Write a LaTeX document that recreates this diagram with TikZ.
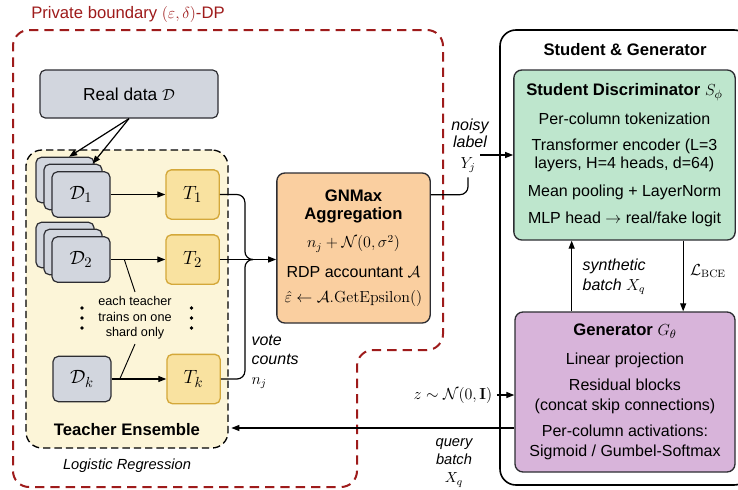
\documentclass[tikz,border=0pt]{standalone}
\usepackage[no-math]{fontspec}
\setmainfont{Liberation Sans}
\usepackage{amsmath}
\usepackage{amssymb}
\usetikzlibrary{
    arrows.meta,
    positioning,
    calc
}
\definecolor{dpred}{RGB}{158,27,27}
\definecolor{boxline}{RGB}{45,45,50}
\definecolor{datafill}{RGB}{210,214,222}
\definecolor{ensfill}{RGB}{252,245,216}
\definecolor{teachfill}{RGB}{249,226,160}
\definecolor{teachline}{RGB}{212,168,58}
\definecolor{aggfill}{RGB}{250,207,160}
\definecolor{discfill}{RGB}{190,230,205}
\definecolor{genfill}{RGB}{216,180,218}
\newcommand{\ttl}[1]{{\fontsize{12.5}{14}\selectfont\bfseries #1}}
\tikzstyle{databox} = [
    rectangle,
    rounded corners=4pt,
    draw=boxline,
    fill=datafill,
    line width=0.9pt,
    minimum width=43.5pt,
    minimum height=34pt,
    inner sep=0pt,
    font=\fontsize{15}{17}\selectfont
]
\tikzstyle{teacher} = [
    rectangle,
    rounded corners=4pt,
    draw=teachline,
    fill=teachfill,
    line width=1pt,
    minimum width=40pt,
    minimum height=37pt,
    inner sep=0pt,
    font=\fontsize{15}{17}\selectfont
]
\tikzstyle{module} = [
    rectangle,
    rounded corners=6pt,
    draw=boxline,
    line width=1pt,
    align=center,
    inner sep=2pt
]
\tikzstyle{arrow} = [
    -{Triangle[length=6pt,width=4.5pt]},
    line width=0.9pt
]
\tikzstyle{wire} = [
    line width=0.9pt
]
\tikzstyle{note} = [
    font=\fontsize{12}{14.5}\selectfont\itshape,
    inner sep=1pt
]

\begin{document}
\begin{tikzpicture}[x=0.75pt, y=-0.75pt, font=\fontsize{12}{13}\selectfont]
    \useasboundingbox (0,0) rectangle (738,489);

    % Private boundary
    \draw[dpred, line width=1.5pt, dash pattern=on 7pt off 4.5pt, rounded corners=12pt]
        (13,30) -- (443,30) -- (443,350) -- (357,350) -- (357,487) -- (13,487) -- cycle;
    \node[anchor=west, text=dpred, font=\fontsize{12.5}{14}\selectfont, inner sep=0pt] (dptitle) at (31,14)
        {Private boundary $(\varepsilon,\delta)$-DP};

    % Teacher ensemble
    \node[rectangle, rounded corners=12pt, draw=black, fill=ensfill, line width=1pt,
        dash pattern=on 5.5pt off 3pt, minimum width=151.5pt, minimum height=223.5pt] (ens) at (127,299) {};
    \node[databox, minimum width=133.5pt, minimum height=36pt, font=\fontsize{13}{15}\selectfont] (real) at (129,94)
        {Real data $\mathcal{D}$};

    \node[databox] (d1a) at (65,180) {};
    \node[databox] (d1b) at (73,187) {};
    \node[databox] (d1) at (81,194.5) {$\mathcal{D}_1$};
    \node[databox] (d2a) at (65,245) {};
    \node[databox] (d2b) at (73,252) {};
    \node[databox] (d2) at (81,259.5) {$\mathcal{D}_2$};
    \node[databox] (dk) at (82,379) {$\mathcal{D}_k$};

    \node[teacher, right=41pt of d1] (t1) {$T_1$};
    \node[teacher, right=41pt of d2] (t2) {$T_2$};
    \node[teacher, right=41pt of dk] (tk) {$T_k$};

    \draw[arrow] (real.south) -- (d1a.80);
    \draw[arrow] (real.south) -- (d1b.50);
    \draw[arrow] (d1) -- (t1);
    \draw[arrow] (d2) -- (t2);
    \draw[arrow] (dk) -- (tk);

    \foreach \y in {308,318,328} {
        \fill (82,\y) circle (1.4pt);
        \fill (191.5,\y) circle (1.4pt);
    }
    \node[font=\fontsize{9.5}{11.6}\selectfont, align=center] (shard) at (135,318)
        {each teacher\\trains on one\\shard only};
    \coordinate (s2) at ($(d2.east)!0.25!(t2.west)$);
    \coordinate (sk) at ($(dk.east)!0.15!(tk.west)$);
    \draw[line width=0.7pt] (shard.north) -- (s2);
    \draw[line width=0.7pt] (shard.south) -- (sk);

    \node[font=\fontsize{12.5}{14}\selectfont\bfseries] (enslbl) at (127,430) {Teacher Ensemble};
    \node[font=\fontsize{11}{13}\selectfont\itshape] (logreg) at (127,466) {Logistic Regression};

    % GNMax aggregation
    \node[module, fill=aggfill, minimum width=115pt, minimum height=112.5pt] (gnmax) at (353.5,248)
        {\ttl{GNMax}\\[1pt] \ttl{Aggregation}\\[8pt]
         $n_j+\mathcal{N}(0,\sigma^2)$\\[9pt]
         RDP accountant $\mathcal{A}$\\[6pt]
         $\hat{\varepsilon}\leftarrow\mathcal{A}.\mathrm{GetEpsilon}()$};

    \coordinate (merge) at ($(t2.east)+(25,0)$);
    \draw[wire, rounded corners=6pt] (t1.east) -| (merge) -- ++(8,0);
    \draw[wire, rounded corners=6pt] (tk.east) -| (merge) -- ++(8,0);
    \draw[arrow] (t2.east) -- (t2.east -| gnmax.west);
    \node[note, align=left, anchor=west] (vote) at (250,362) {vote\\counts\\$n_j$};

    % Student & Generator
    \node[rectangle, rounded corners=12pt, draw=black, line width=1.2pt,
        minimum width=187.5pt, minimum height=341.25pt] (outer) at (625,257.5) {};
    \node[font=\fontsize{12.5}{14}\selectfont\bfseries] (sgtitle) at (625,50) {Student \& Generator};

    \node[module, fill=discfill, minimum width=166pt, minimum height=127.5pt] (disc) at (624.5,155)
        {\ttl{Student Discriminator $S_\phi$}\\[8.5pt]
         Per-column tokenization\\[7pt]
         Transformer encoder (L=3\\
         layers, H=4 heads, d=64)\\[8.5pt]
         Mean pooling + LayerNorm\\[7pt]
         MLP head $\rightarrow$ real/fake logit};

    \node[module, fill=genfill, minimum width=165pt, minimum height=120pt] (gen) at (625,392)
        {\ttl{Generator $G_\theta$}\\[8.5pt]
         Linear projection\\[6.5pt]
         Residual blocks\\[2pt]
         (concat skip connections)\\[7pt]
         Per-column activations:\\[2pt]
         Sigmoid / Gumbel-Softmax};

    \draw[arrow] ([xshift=-40pt]gen.north) -- ([xshift=-40pt]gen.north |- disc.south);
    \draw[arrow] ([xshift=44pt]disc.south) -- ([xshift=44pt]disc.south |- gen.north);
    \node[note, align=left, anchor=west] (synth) at (581,277) {synthetic\\batch $X_q$};
    \node (lbce) at (708,271) {$\mathcal{L}_{\mathrm{BCE}}$};

    % Noisy label
    \node[note, align=center, font=\fontsize{12}{12.75}\selectfont\itshape] (noisy) at (470,133) {noisy\\label};
    \node (yj) at (468,165) {$Y_j$};
    \draw[wire, rounded corners=6pt] ([yshift=40pt]gnmax.east) -| (yj.south);
    \draw[arrow] (yj.north east |- disc.west) -- (disc.west);

    % Noise input and query batch
    \node (z) at (453,395) {$z\sim\mathcal{N}(0,\mathbf{I})$};
    \draw[arrow] (z.east) -- (z.east -| gen.west);
    \coordinate (qstart) at ([yshift=-27pt]gen.west);
    \draw[arrow, shorten >=2pt] (qstart) -- (qstart -| ens.east);
    \node[note, align=center, font=\fontsize{11}{13.5}\selectfont\itshape] (query) at (454,463) {query\\batch\\$X_q$};
\end{tikzpicture}
\end{document}
